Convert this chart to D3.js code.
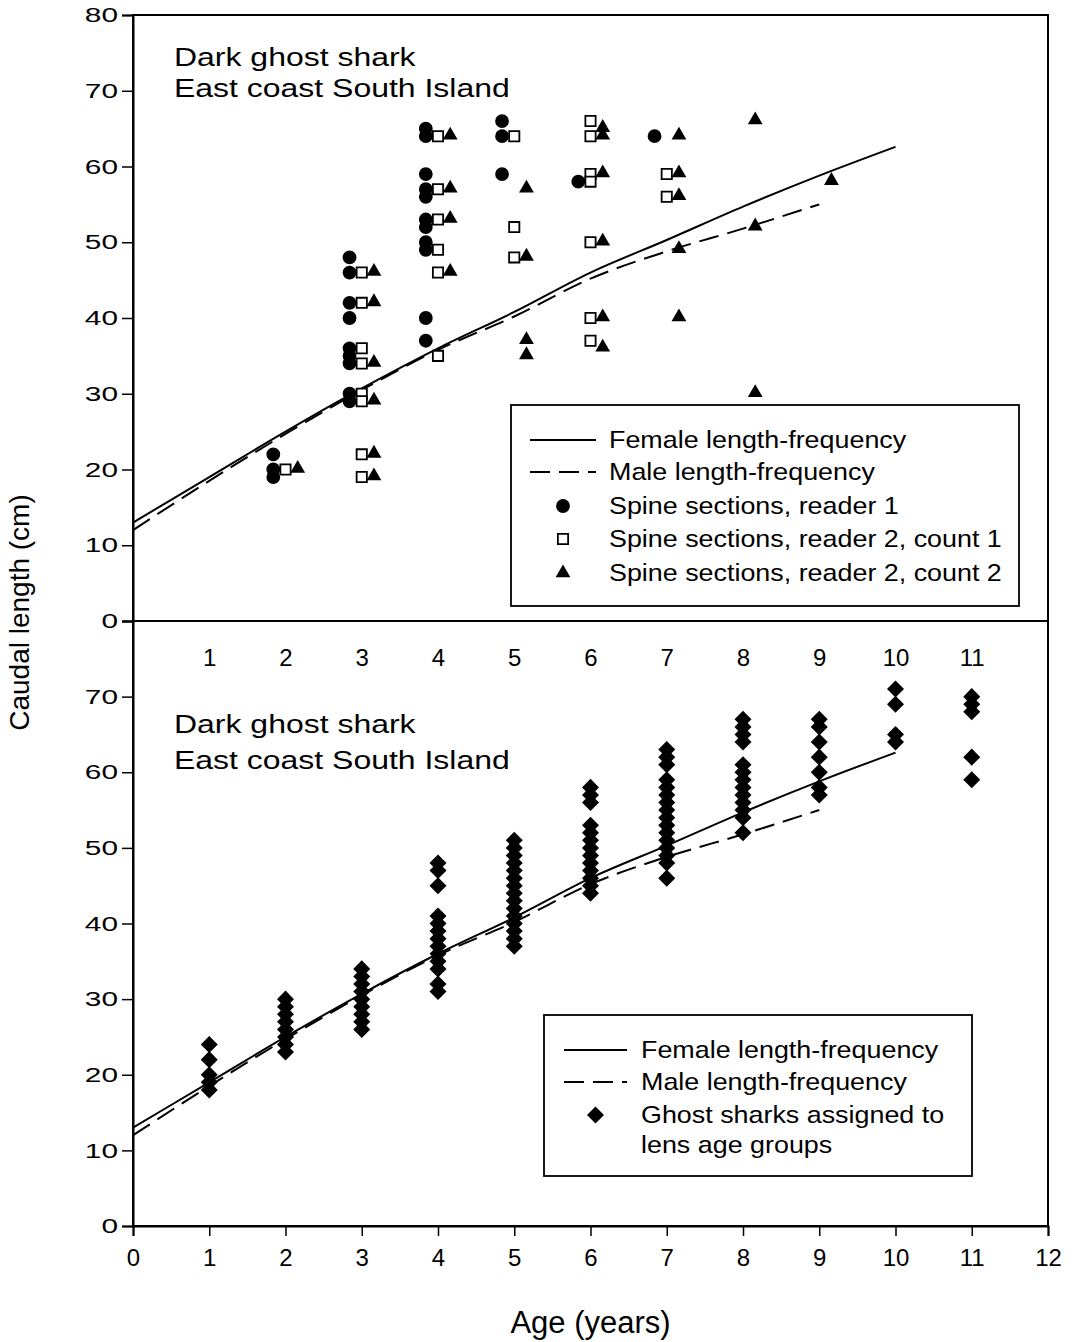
<!DOCTYPE html>
<html>
<head>
<meta charset="utf-8">
<script src="https://cdn.jsdelivr.net/npm/d3@7"></script>
<style>
  body { margin: 0; background: #fff; }
  svg { display: block; font-family: "Liberation Sans", Arial, Helvetica, sans-serif; }
</style>
</head>
<body>
<div id="chart"></div>
<script>
const width = 1072;
const height = 1342;

// growth curves (length-frequency)
const femaleAges = [0, 1, 2, 3, 4, 5, 6, 7, 8, 9, 10];
const femaleLen  = [13, 19, 25, 30.7, 36, 40.8, 46, 50.3, 54.7, 58.8, 62.6];
const maleAges = [0, 1, 2, 3, 4, 5, 6, 7, 8, 9];
const maleLen  = [12, 18.5, 24.7, 30.5, 35.8, 40.2, 45.2, 48.8, 51.8, 55];

// spine sections: [age, length]
const reader1 = [
  [2, 22], [2, 20], [2, 19],
  [3, 48], [3, 46], [3, 42], [3, 40], [3, 36], [3, 35], [3, 34], [3, 30], [3, 29],
  [4, 65], [4, 64], [4, 59], [4, 57], [4, 56], [4, 53], [4, 52], [4, 50], [4, 49], [4, 40], [4, 37],
  [5, 66], [5, 64], [5, 59],
  [6, 58],
  [7, 64]
];
const reader2count1 = [
  [2, 20],
  [3, 46], [3, 42], [3, 36], [3, 34], [3, 30], [3, 29], [3, 22], [3, 19],
  [4, 64], [4, 57], [4, 53], [4, 49], [4, 46], [4, 35],
  [5, 64], [5, 52], [5, 48],
  [6, 66], [6, 64], [6, 59], [6, 58], [6, 50], [6, 40], [6, 37],
  [7, 59], [7, 56]
];
const reader2count2 = [
  [2, 20],
  [3, 46], [3, 42], [3, 34], [3, 29], [3, 22], [3, 19],
  [4, 64], [4, 57], [4, 53], [4, 46],
  [5, 57], [5, 48], [5, 37], [5, 35],
  [6, 65], [6, 64], [6, 59], [6, 50], [6, 40], [6, 36],
  [7, 64], [7, 59], [7, 56], [7, 49], [7, 40],
  [8, 66], [8, 52], [8, 30],
  [9, 58]
];

// lens age groups: lengths per age
const lensAges = [1, 2, 3, 4, 5, 6, 7, 8, 9, 10, 11];
const lensLengths = [
  [24, 22, 20, 19, 18],
  [30, 29, 28, 27, 26, 25, 24, 23],
  [34, 33, 32, 31, 30, 29, 28, 27, 26],
  [48, 47, 45, 41, 40, 39, 38, 37, 36, 35, 34, 32, 31],
  [51, 50, 49, 48, 47, 46, 45, 44, 43, 42, 41, 40, 39, 38, 37],
  [58, 57, 56, 53, 52, 51, 50, 49, 48, 47, 46, 45, 44],
  [63, 62, 61, 59, 58, 57, 56, 55, 54, 53, 52, 51, 50, 49, 48, 46],
  [67, 66, 65, 64, 61, 60, 59, 58, 57, 56, 55, 54, 52],
  [67, 66, 64, 62, 60, 58, 57],
  [71, 69, 65, 64],
  [70, 69, 68, 62, 59]
];

const xTicks = d3.range(0, 13);
const topAgeLabels = d3.range(1, 12);

const svg = d3.select("#chart")
  .append("svg")
  .attr("width", width)
  .attr("height", height);

const x = d3.scaleLinear().domain([0, 12]).range([133, 1048]);
const yTop = d3.scaleLinear().domain([0, 80]).range([621, 15]);
const yBot = d3.scaleLinear().domain([0, 80]).range([1226, 621]);

const offset = 0.16;

// frame
svg.append("rect")
  .attr("x", x(0)).attr("y", yTop(80))
  .attr("width", x(12) - x(0)).attr("height", yBot(0) - yTop(80))
  .attr("fill", "none").attr("stroke", "#000").attr("stroke-width", 2);
svg.append("line")
  .attr("x1", x(0)).attr("x2", x(12))
  .attr("y1", yTop(0)).attr("y2", yTop(0))
  .attr("stroke", "#000").attr("stroke-width", 2);

function styleAxis(g, size) {
  g.select(".domain").attr("stroke-width", 2);
  g.selectAll(".tick line").attr("stroke-width", 1.5);
  g.selectAll("text").attr("font-size", size).attr("fill", "#000")
    .attr("font-family", "'Liberation Sans', Arial, sans-serif");
}

// y axes - the labels in the scan are wide, so stretch them sideways
function yAxis(scale, vals) {
  svg.append("g")
    .attr("transform", `translate(${x(0)},0)`)
    .call(d3.axisLeft(scale).tickValues(vals).tickSize(11).tickPadding(4))
    .call(g => styleAxis(g, 21))
    .call(g => g.selectAll(".tick text")
      .attr("x", 0)
      .attr("transform", "translate(-15,0) scale(1.42,1)"));
}
yAxis(yTop, d3.range(0, 81, 10));
yAxis(yBot, d3.range(0, 71, 10));

// x axes
svg.append("g")
  .attr("transform", `translate(0,${yBot(0)})`)
  .call(d3.axisBottom(x).tickValues(xTicks).tickSize(10).tickPadding(13))
  .call(g => styleAxis(g, 24));

svg.append("g")
  .attr("transform", `translate(0,${yTop(0)})`)
  .call(d3.axisBottom(x).tickValues(topAgeLabels).tickSize(0).tickPadding(28))
  .call(g => styleAxis(g, 24))
  .call(g => g.select(".domain").remove());

// axis titles
svg.append("text")
  .attr("transform", `translate(22,${(yTop(80) + yBot(0)) / 2 - 8}) rotate(-90)`)
  .attr("text-anchor", "middle")
  .attr("dominant-baseline", "middle")
  .attr("font-size", 28)
  .text("Caudal length (cm)");

svg.append("text")
  .attr("x", (x(0) + x(12)) / 2)
  .attr("y", 1333)
  .attr("text-anchor", "middle")
  .attr("font-size", 31)
  .text("Age (years)");

// panel titles
function panelTitle(yBase, gap) {
  const t = svg.append("text").attr("font-size", 26)
    .attr("transform", `translate(174,${yBase}) scale(1.23,1)`);
  t.append("tspan").attr("x", 0).text("Dark ghost shark");
  t.append("tspan").attr("x", 0).attr("dy", gap).text("East coast South Island");
}
panelTitle(66, 31);
panelTitle(733, 36);

// growth lines
function drawCurves(y) {
  const line = d3.line().x(d => x(d[0])).y(d => y(d[1])).curve(d3.curveMonotoneX);
  svg.append("path")
    .datum(femaleAges.map((a, i) => [a, femaleLen[i]]))
    .attr("d", line)
    .attr("fill", "none").attr("stroke", "#000").attr("stroke-width", 2);
  svg.append("path")
    .datum(maleAges.map((a, i) => [a, maleLen[i]]))
    .attr("d", line)
    .attr("fill", "none").attr("stroke", "#000").attr("stroke-width", 2)
    .attr("stroke-dasharray", "20,9");
}
drawCurves(yTop);
drawCurves(yBot);

// symbols
const circleSym = d3.symbol().type(d3.symbolCircle).size(150);
const squareSym = d3.symbol().type(d3.symbolSquare).size(105);
const triSym = d3.symbol().type(d3.symbolTriangle).size(95);
const diamondSym = d3.symbol().type(d3.symbolSquare).size(145);

svg.append("g").selectAll("path")
  .data(reader1).enter().append("path")
  .attr("d", circleSym)
  .attr("transform", d => `translate(${x(d[0] - offset)},${yTop(d[1])})`)
  .attr("fill", "#000");

svg.append("g").selectAll("path")
  .data(reader2count1).enter().append("path")
  .attr("d", squareSym)
  .attr("transform", d => `translate(${x(d[0])},${yTop(d[1])})`)
  .attr("fill", "#fff").attr("stroke", "#000").attr("stroke-width", 1.8);

svg.append("g").selectAll("path")
  .data(reader2count2).enter().append("path")
  .attr("d", triSym)
  .attr("transform", d => `translate(${x(d[0] + offset)},${yTop(d[1]) - 1})`)
  .attr("fill", "#000");

const lensPoints = [];
lensAges.forEach((a, i) => lensLengths[i].forEach(l => lensPoints.push([a, l])));

svg.append("g").selectAll("path")
  .data(lensPoints).enter().append("path")
  .attr("d", diamondSym)
  .attr("transform", d => `translate(${x(d[0])},${yBot(d[1])}) rotate(45)`)
  .attr("fill", "#000");

// legends
function legend(box, rows, textX, lineX1, lineX2) {
  svg.append("rect")
    .attr("x", box[0]).attr("y", box[1])
    .attr("width", box[2]).attr("height", box[3])
    .attr("fill", "#fff").attr("stroke", "#000").attr("stroke-width", 1.8);
  const mid = (lineX1 + lineX2) / 2;
  rows.forEach(r => {
    if (r.kind === "solid" || r.kind === "dash") {
      svg.append("line")
        .attr("x1", lineX1).attr("x2", lineX2)
        .attr("y1", r.y).attr("y2", r.y)
        .attr("stroke", "#000").attr("stroke-width", 2)
        .attr("stroke-dasharray", r.kind === "dash" ? "20,9" : null);
    } else {
      const sym = { circle: circleSym, square: squareSym, tri: triSym, diamond: diamondSym }[r.kind];
      svg.append("path")
        .attr("d", sym)
        .attr("transform", `translate(${mid},${r.y})` + (r.kind === "diamond" ? " rotate(45)" : ""))
        .attr("fill", r.kind === "square" ? "#fff" : "#000")
        .attr("stroke", r.kind === "square" ? "#000" : null)
        .attr("stroke-width", 1.8);
    }
    const t = svg.append("text")
      .attr("transform", `translate(${textX},${r.y}) scale(1.12,1)`)
      .attr("font-size", 24)
      .attr("dominant-baseline", "central");
    r.text.forEach((s, i) => t.append("tspan").attr("x", 0).attr("dy", i === 0 ? 0 : 30).text(s));
  });
}

legend([511, 405, 508, 201], [
  { kind: "solid", y: 440, text: ["Female length-frequency"] },
  { kind: "dash", y: 472, text: ["Male length-frequency"] },
  { kind: "circle", y: 506, text: ["Spine sections, reader 1"] },
  { kind: "square", y: 539, text: ["Spine sections, reader 2, count 1"] },
  { kind: "tri", y: 573, text: ["Spine sections, reader 2, count 2"] }
], 609, 530, 596);

legend([544, 1015, 428, 161], [
  { kind: "solid", y: 1050, text: ["Female length-frequency"] },
  { kind: "dash", y: 1082, text: ["Male length-frequency"] },
  { kind: "diamond", y: 1115, text: ["Ghost sharks assigned to", "lens age groups"] }
], 641, 564, 627);
</script>
</body>
</html>
